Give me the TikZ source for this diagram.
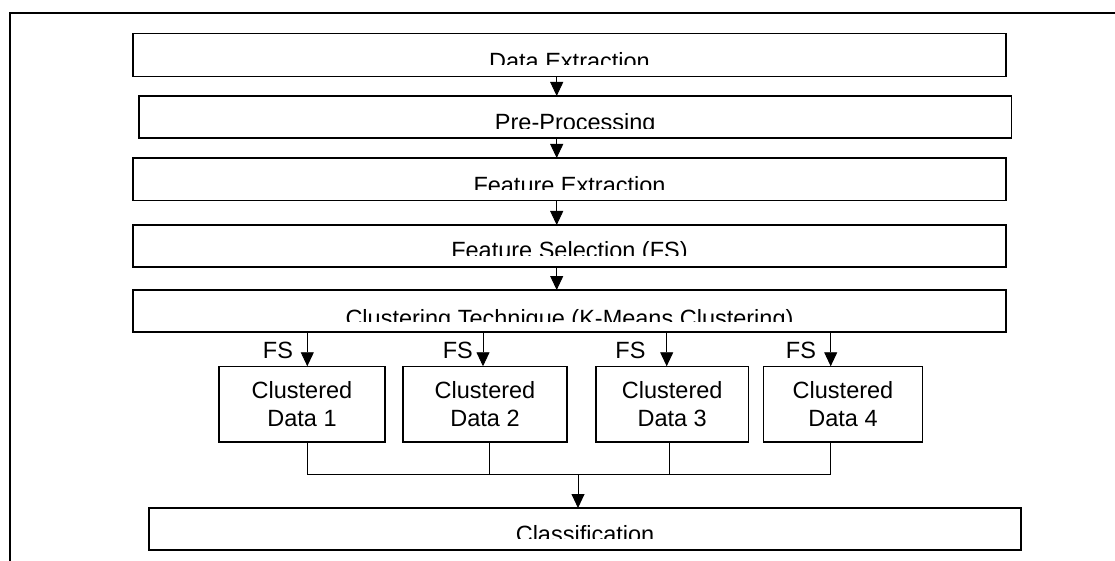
\documentclass[tikz,border=0pt]{standalone}
\usepackage{fontspec}
\setmainfont{Liberation Sans}
\usetikzlibrary{arrows.meta}
\begin{document}
\begin{tikzpicture}[x=1pt,y=-1pt,
  stage/.style={draw, line width=1.5pt, rectangle, inner sep=0pt, outer sep=0pt},
  cbox/.style={draw, line width=1.5pt, rectangle, inner sep=0pt, outer sep=0pt,
    minimum height=75.5pt, align=center, font=\fontsize{23.5}{27.4}\selectfont},
  lbl/.style={font=\fontsize{23.5}{27.4}\selectfont, inner sep=0pt, anchor=base},
  fslbl/.style={font=\fontsize{23.5}{27.4}\selectfont, inner sep=0pt},
  conn/.style={line width=0.9pt},
  arr/.style={conn, -{Triangle[width=13pt,length=14pt]}},
  frameline/.style={line width=1.7pt}]
\useasboundingbox (0,0) rectangle (1115,561);

% outer frame (top and left only)
\coordinate (fa) at (1115,13);
\coordinate (fb) at (10,13);
\coordinate (fc) at (10,561);
\draw[frameline] (fa) -- (fb) -- (fc);

% main stages
\node[stage, minimum width=873pt, minimum height=43pt] (b1) at (569.5,55) {};
\node[stage, minimum width=872.5pt, minimum height=42pt] (b2) at (575.25,117) {};
\node[stage, minimum width=873pt, minimum height=42.5pt] (b3) at (569.5,179.25) {};
\node[stage, minimum width=873pt, minimum height=42pt] (b4) at (569.5,246) {};
\node[stage, minimum width=873pt, minimum height=42pt] (b5) at (569.5,311) {};
\node[stage, minimum width=872pt, minimum height=42pt] (b6) at (585,529) {};

\begin{scope}
  \clip (b1.north west) rectangle ([yshift=11.5pt]b1.south east);
  \node[lbl] (t1) at ([yshift=-36pt]b1.north) {Data Extraction};
\end{scope}
\begin{scope}
  \clip (b2.north west) rectangle ([yshift=9.7pt]b2.south east);
  \node[lbl] (t2) at ([yshift=-34.1pt]b2.north) {Pre-Processing};
\end{scope}
\begin{scope}
  \clip (b3.north west) rectangle ([yshift=10.5pt]b3.south east);
  \node[lbl] (t3) at ([yshift=-35.5pt]b3.north) {Feature Extraction};
\end{scope}
\begin{scope}
  \clip (b4.north west) rectangle ([yshift=12pt]b4.south east);
  \node[lbl] (t4) at ([yshift=-33.5pt]b4.north) {Feature Selection (FS)};
\end{scope}
\begin{scope}
  \clip (b5.north west) rectangle ([yshift=10.3pt]b5.south east);
  \node[lbl] (t5) at ([yshift=-36pt]b5.north) {Clustering Technique (K-Means Clustering)};
\end{scope}
\begin{scope}
  \clip (b6.north west) rectangle ([yshift=11.7pt]b6.south east);
  \node[lbl] (t6) at ([yshift=-34.5pt]b6.north) {Classification};
\end{scope}

% arrows between stages
\coordinate (ax) at (556.7,0);
\draw[arr] (b1.south -| ax) -- (b2.north -| ax);
\draw[arr] (b2.south -| ax) -- (b3.north -| ax);
\draw[arr] (b3.south -| ax) -- (b4.north -| ax);
\draw[arr] (b4.south -| ax) -- (b5.north -| ax);

% clustered data boxes
\node[cbox, minimum width=166pt] (cd1) at (302,404) {Clustered\\Data 1};
\node[cbox, minimum width=164pt] (cd2) at (485,404) {Clustered\\Data 2};
\node[cbox, minimum width=152.3pt] (cd3) at (672.2,404) {Clustered\\Data 3};
\node[cbox, minimum width=159.4pt] (cd4) at (843,404) {Clustered\\Data 4};

% FS arrows
\coordinate (a1) at (307.3,0);
\coordinate (a2) at (483,0);
\coordinate (a3) at (666.7,0);
\coordinate (a4) at (830.7,0);
\draw[arr] (b5.south -| a1) -- (cd1.north -| a1);
\draw[arr] (b5.south -| a2) -- (cd2.north -| a2);
\draw[arr] (b5.south -| a3) -- (cd3.north -| a3);
\draw[arr] (b5.south -| a4) -- (cd4.north -| a4);
\node[fslbl] (fs1) at (278,350.8) {FS};
\node[fslbl] (fs2) at (457.8,350.8) {FS};
\node[fslbl] (fs3) at (630.5,350.8) {FS};
\node[fslbl] (fs4) at (801,350.8) {FS};

% merge lines
\coordinate (j1) at (307.3,474);
\coordinate (j2) at (489.3,474);
\coordinate (j3) at (669,474);
\coordinate (j4) at (830.7,474);
\coordinate (jm) at (578,474);
\draw[conn] (cd1.south -| j1) -- (j1) -- (j4) -- (cd4.south -| j4);
\draw[conn] (cd2.south -| j2) -- (j2);
\draw[conn] (cd3.south -| j3) -- (j3);
\draw[arr] (jm) -- (b6.north -| jm);
\end{tikzpicture}
\end{document}
